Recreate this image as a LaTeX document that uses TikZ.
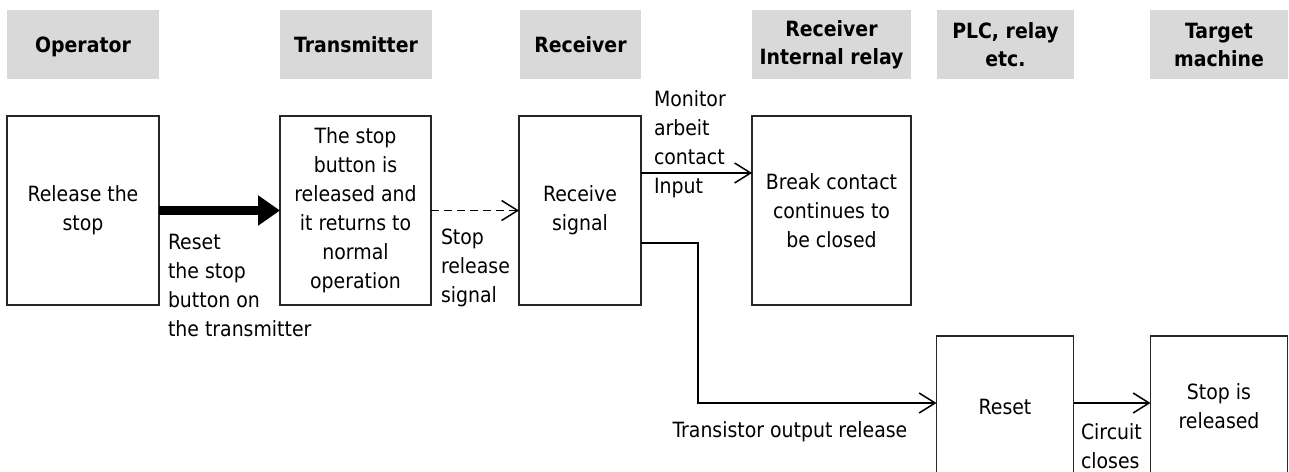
\documentclass[tikz,border=0pt]{standalone}
\usepackage{fontspec}
\setmainfont{DejaVu Sans Condensed}[BoldFont={DejaVu Sans Condensed Bold}]
\usetikzlibrary{arrows.meta,calc}
\definecolor{hdr}{HTML}{D9D9D9}
\begin{document}
\begin{tikzpicture}[x=1pt,y=-1pt,
  every node/.style={font=\fontsize{21}{29}\selectfont, inner sep=0pt, outer sep=0pt},
  hbox/.style={fill=hdr, minimum height=69pt, align=center, font=\fontsize{21}{28}\selectfont\bfseries},
  hone/.style={hbox, text height=15pt, text depth=0pt},
  bbox/.style={draw=black!85, line width=1.3pt, minimum height=189pt, align=center},
  lbox/.style={draw=black!85, line width=1.3pt, minimum height=141pt, align=center},
  lab/.style={align=left},
  arr/.style={line width=1.5pt, -{Straight Barb[length=16pt,width=20pt,line width=1.5pt]}},
  thick arr/.style={line width=9pt, -{Triangle[length=22pt,width=29pt]}}
]
\clip (0,0) rectangle (1289,471);
% headers
\node[hone, minimum width=152pt] (hOp) at (83,44.5) {Operator};
\node[hone, minimum width=152pt] (hTx) at (356,44.5) {Transmitter};
\node[hone, minimum width=121pt] (hRx) at (580.5,44.5) {Receiver};
\node[hbox, minimum width=159pt] (hRel) at (831.5,44.5) {Receiver\\Internal relay};
\node[hbox, minimum width=137pt] (hPlc) at (1005.5,44.5) {PLC, relay\\etc.};
\node[hbox, minimum width=138pt] (hTgt) at (1219,44.5) {Target\\machine};
% boxes
\node[bbox, minimum width=152pt] (bOp) at (83,210.5) {Release the\\stop};
\node[bbox, minimum width=151pt] (bTx) at (355.5,210.5) {The stop\\button is\\released and\\it returns to\\normal\\operation};
\node[bbox, minimum width=122pt] (bRx) at (580,210.5) {Receive\\signal};
\node[bbox, minimum width=159pt] (bRel) at (831.5,210.5) {Break contact\\continues to\\be closed};
\node[lbox, minimum width=137pt] (bRes) at (1005,406.5) {Reset};
\node[lbox, minimum width=137pt] (bStop) at (1219,406.5) {Stop is\\released};
% labels
\node[lab, anchor=west] (lReset) at (168,285.5) {Reset\\the stop\\button on\\the transmitter};
\node[lab, anchor=west] (lStop) at (441,268) {Stop\\release\\signal};
\node[lab, anchor=west] (lMon) at (654,144) {Monitor\\arbeit\\contact\\Input};
\node[lab] (lTrans) at (790,432) {Transistor output release};
\node[lab, anchor=west] (lCirc) at (1081,446) {Circuit\\closes};
% connectors
\coordinate (m) at (0,173);
\coordinate (r) at (0,243);
\coordinate (k) at (698,403);
\draw[thick arr] (bOp.east) -- (bTx.west);
\draw[arr, dash pattern=on 8pt off 5pt] (bTx.east) -- (bRx.west);
\draw[arr] (bRx.east |- m) -- (bRel.west |- m);
\draw[arr] (bRx.east |- r) -| (k) -- (bRes.west |- k);
\draw[arr] (bRes.east |- k) -- (bStop.west |- k);
\end{tikzpicture}
\end{document}
